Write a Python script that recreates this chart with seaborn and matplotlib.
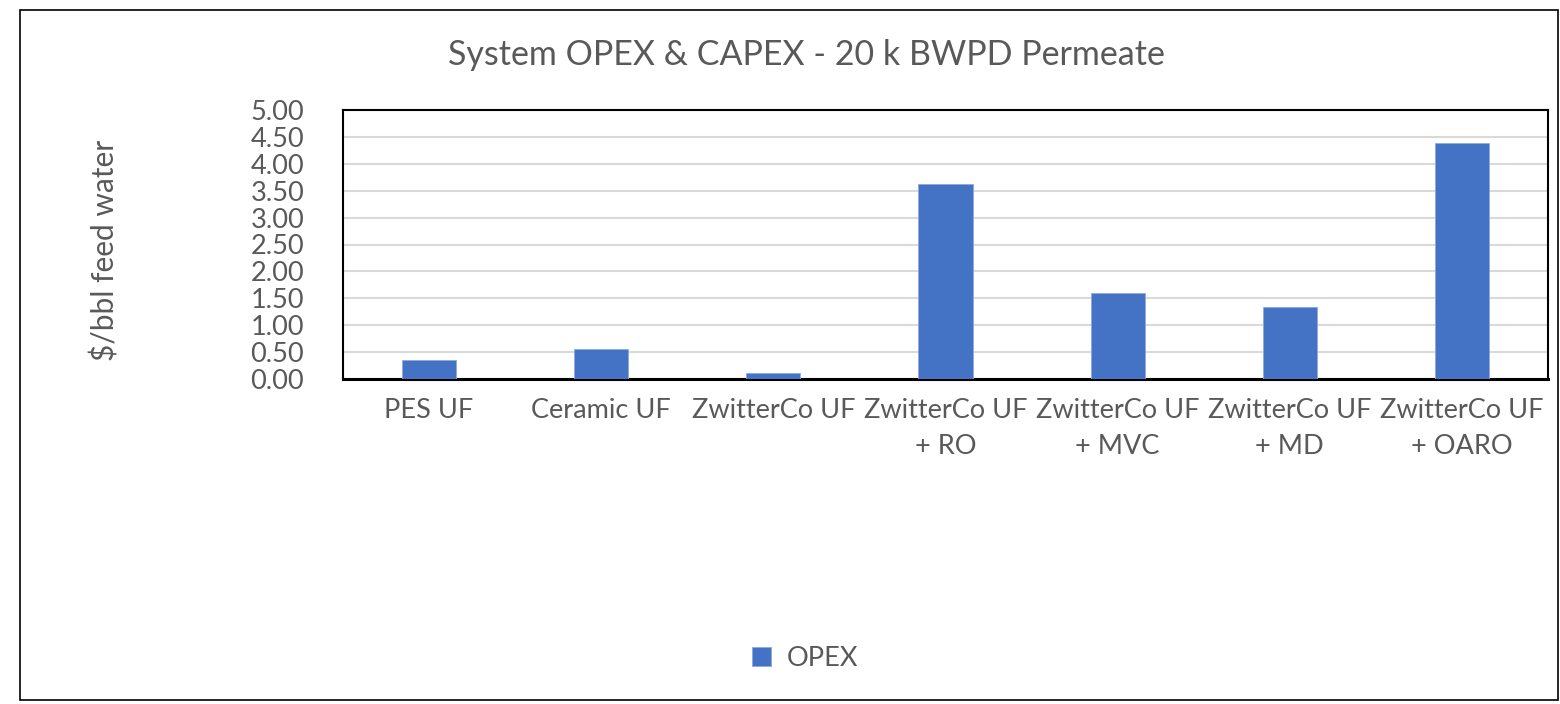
import numpy as np
import pandas as pd
import matplotlib.pyplot as plt
import matplotlib.patches as patches
import seaborn as sns

categories = ["PES UF", "Ceramic UF", "ZwitterCo UF",
              "ZwitterCo UF\n+ RO", "ZwitterCo UF\n+ MVC",
              "ZwitterCo UF\n+ MD", "ZwitterCo UF\n+ OARO"]
opex = [0.35, 0.56, 0.11, 3.62, 1.60, 1.33, 4.39]
series = ["OPEX"] * len(categories)

df = pd.DataFrame({"category": categories, "value": opex, "series": series})

sns.set_theme(style="white")
plt.rcParams['font.family'] = ['Lato', 'DejaVu Sans']
grey = "#595959"

fig = plt.figure(figsize=(15.6, 7.04), dpi=100)
ax = fig.add_axes([343/1560, 1-379/704, (1548-343)/1560, (379-110)/704])

sns.barplot(data=df, x="category", y="value", hue="series",
            palette={"OPEX": "#4472C4"}, saturation=1, width=0.315, dodge=False,
            edgecolor="#8FAADC", linewidth=0.6, ax=ax, zorder=3)

ax.set_ylim(0, 5)
ax.set_yticks(np.arange(0, 5.01, 0.5))
ax.set_yticklabels([f"{v:.2f}" for v in np.arange(0, 5.01, 0.5)])
ax.yaxis.grid(True, color="#D9D9D9", linewidth=1.5, zorder=0)
ax.set_axisbelow(True)
for s in ax.spines.values():
    s.set_visible(True)
    s.set_color("black")
    s.set_linewidth(1.5)
ax.spines['bottom'].set_linewidth(2.2)
ax.tick_params(axis='both', length=0, labelsize=19.5, colors=grey)
ax.tick_params(axis='x', pad=14)
ax.tick_params(axis='y', pad=28)
ax.set_xlabel("")
ax.set_ylabel("")
for t in ax.get_xticklabels():
    t.set_linespacing(1.55)

fig.text(806/1560, 1-55/704, "System OPEX & CAPEX - 20 k BWPD Permeate",
         ha="center", va="center", fontsize=24.5, color=grey)
fig.text(105/1560, 1-250/704, "$/bbl feed water", rotation=90,
         ha="center", va="center", fontsize=21.5, color=grey)

sns.move_legend(ax, "center", bbox_to_anchor=(805/1560, 1-658/704),
                bbox_transform=fig.transFigure, frameon=False, title=None,
                fontsize=19.5, handlelength=0.7, handleheight=0.7,
                handletextpad=0.6)
for t in ax.get_legend().get_texts():
    t.set_color(grey)

fig.patches.append(patches.Rectangle((20/1560, 1-700/704), 1538/1560, 690/704,
                                     transform=fig.transFigure, fill=False,
                                     edgecolor="black", linewidth=1.2))

fig.savefig("out.png", dpi=100)
